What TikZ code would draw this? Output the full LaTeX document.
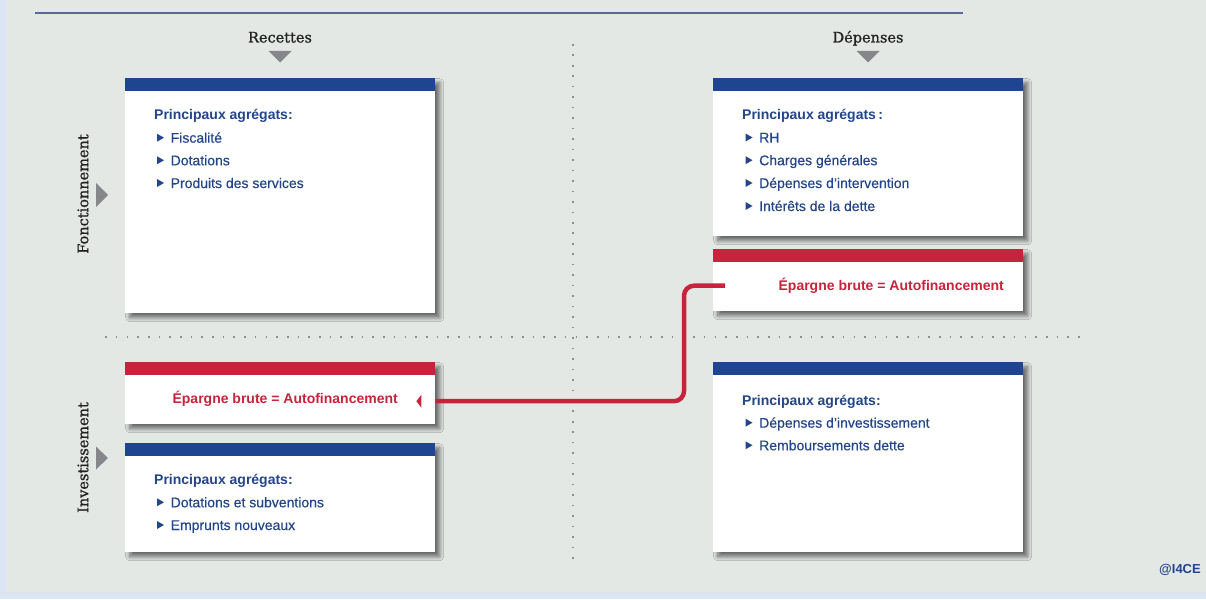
\documentclass[tikz,border=0pt]{standalone}
\usepackage{fontspec}
\setmainfont{Liberation Sans}
\newfontface\entryfont{Liberation Sans}[FakeBold=0.35]
\newfontface\slab{DejaVu Serif}[FakeBold=0.9]
\usetikzlibrary{shadows.blur}

\definecolor{pagebg}{HTML}{E4E8E5}
\definecolor{strip}{HTML}{DCE6F2}
\definecolor{barblue}{HTML}{1E4690}
\definecolor{txtblue}{HTML}{23458A}
\definecolor{barred}{HTML}{C8233C}
\definecolor{dotgrey}{HTML}{8E9090}
\definecolor{markgrey}{HTML}{85878A}
\definecolor{rulecol}{HTML}{56699A}

\begin{document}
\begin{tikzpicture}[x=1pt,y=-1pt,
  panel/.style={draw=none, fill=white, inner sep=0pt, anchor=north west,
    minimum width=310pt,
    blur shadow={shadow xshift=4.5pt, shadow yshift=-4.5pt,
                 shadow blur radius=4pt, shadow blur steps=10,
                 shadow opacity=55},
    path picture={\fill[#1] (path picture bounding box.north west)
       rectangle ([yshift=-13pt]path picture bounding box.north east);}},
  head/.style={anchor=west, inner sep=0pt, text height=10pt, text depth=0pt,
    text=txtblue, font=\fontsize{14}{16}\selectfont\bfseries},
  entry/.style={anchor=west, inner sep=0pt, text height=10pt, text depth=0pt,
    text=txtblue, font=\entryfont\fontsize{14}{16}\selectfont,
    append after command={\pgfextra{\fill[txtblue]
      ([xshift=-13.5pt,yshift=4pt]\tikzlastnode.west) -- ++(7pt,-4pt)
      -- ++(-7pt,-4pt) -- cycle;}}},
  saving/.style={anchor=east, inner sep=0pt, text height=10pt, text depth=0pt,
    text=barred, font=\fontsize{14}{16}\selectfont\bfseries},
  axis/.style={inner sep=0pt, text=black!87,
    font=\slab\fontsize{14.5}{16}\selectfont},
  dots/.style={dotgrey, line width=1.6pt},
  link/.style={barred, line width=4.5pt, rounded corners=10pt},
  marker/.style={fill=markgrey}
]
\useasboundingbox (0,0) rectangle (1206,599);

% background
\fill[strip] (0,0) rectangle (1206,599);
\fill[pagebg] (7,0) rectangle (1206,592);
\draw[rulecol, line width=1.2pt] (35,13) -- (963,13);

% quadrant separators
\draw[dots, dash pattern=on 1.6pt off 8.87pt] (573,44) -- (573,562);
\draw[dots, dash pattern=on 1.6pt off 9.09pt] (105.2,337) -- (1082,337);

% column and row titles
\node[axis, anchor=base] (recettes) at (280,42.5) {Recettes};
\node[axis, anchor=base] (depenses) at (868,42.5) {Dépenses};
\node[axis, rotate=90] (fonct) at (83,194) {Fonctionnement};
\node[axis, rotate=90] (invest) at (83,457.5) {Investissement};
\fill[marker] (268.5,51) -- (291.5,51) -- (280,62.5) -- cycle;
\fill[marker] (856.5,51) -- (879.5,51) -- (868,62.5) -- cycle;
\fill[marker] (96,183) -- (108,195) -- (96,207) -- cycle;
\fill[marker] (96,446.5) -- (108,458) -- (96,469.5) -- cycle;

% panels
\node[panel=barblue, minimum height=235pt] (rf) at (125,78) {};
\node[panel=barblue, minimum height=158pt] (df) at (713,78) {};
\node[panel=barred,  minimum height=62pt]  (ds) at (713,249) {};
\node[panel=barblue, minimum height=190pt] (di) at (713,362) {};
\node[panel=barred,  minimum height=62pt]  (rs) at (125,362) {};
\node[panel=barblue, minimum height=109pt] (ri) at (125,443) {};

% recettes de fonctionnement
\node[head]  (rfh) at (154,115) {Principaux agrégats:};
\node[entry] (rf1) at (170.5,137.7) {Fiscalité};
\node[entry] (rf2) at (170.5,160.3) {Dotations};
\node[entry] (rf3) at (170.5,183) {Produits des services};

% depenses de fonctionnement
\node[head]  (dfh) at (742,115) {Principaux agrégats\,:};
\node[entry] (df1) at (759,137.5) {RH};
\node[entry] (df2) at (759,160.2) {Charges générales};
\node[entry] (df3) at (759,183) {Dépenses d’intervention};
\node[entry] (df4) at (759,206) {Intérêts de la dette};

% epargne brute
\node[saving] (dst) at (1004,285) {Épargne brute = Autofinancement};
\node[saving] (rst) at (398,398) {Épargne brute = Autofinancement};

% depenses d'investissement
\node[head]  (dih) at (742,400) {Principaux agrégats:};
\node[entry] (di1) at (759,422.7) {Dépenses d’investissement};
\node[entry] (di2) at (759,445.3) {Remboursements dette};

% recettes d'investissement
\node[head]  (rih) at (154,479.7) {Principaux agrégats:};
\node[entry] (ri1) at (170.5,502.3) {Dotations et subventions};
\node[entry] (ri2) at (170.5,525) {Emprunts nouveaux};

% transfer of the gross savings
\coordinate (from) at ([xshift=12pt,yshift=-5.5pt]ds.west);
\coordinate (to) at ([yshift=-8pt]rs.east);
\draw[link] (from) -- ++(-41,0) |- (to);
\fill[barred] ([xshift=-19pt]to) -- ++(5pt,-6.5pt) -- ++(0,13pt) -- cycle;

% credit
\node[anchor=west, inner sep=0pt, text=txtblue,
  font=\fontsize{13}{15}\selectfont\bfseries] (credit) at (1159,570) {@I4CE};
\end{tikzpicture}
\end{document}
